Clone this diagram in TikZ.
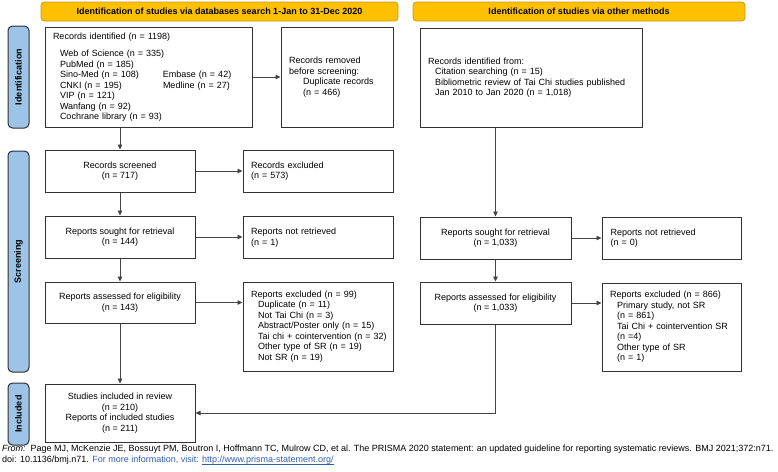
\documentclass[tikz,border=0pt]{standalone}
\usepackage{fontspec}
\setmainfont{Liberation Sans}
\usetikzlibrary{arrows.meta}
\definecolor{hdrfill}{HTML}{FFC000}
\definecolor{hdrline}{HTML}{C49A12}
\definecolor{barfill}{HTML}{9DC3E6}
\definecolor{barline}{HTML}{2B2F36}
\definecolor{boxline}{HTML}{333333}
\definecolor{conn}{HTML}{444444}
\definecolor{linkblue}{HTML}{2E5FB5}
\newcommand\fsz{\fontsize{9}{10.45}\selectfont}
\newcommand\myul[1]{\setbox0\hbox{#1}\rlap{\rule[-1.6pt]{\wd0}{0.5pt}}\box0}
\tikzset{
  box/.style={draw=boxline, line width=1pt, inner sep=0pt, font=\fsz, fill=white},
  lbox/.style={box, align=left},
  cbox/.style={box, align=center},
  hdr/.style={draw=hdrline, line width=0.8pt, fill=hdrfill, rounded corners=3.5pt, inner sep=0pt, font=\fsz\bfseries},
  phase/.style={draw=barline, line width=1pt, fill=barfill, rounded corners=4.5pt, inner sep=0pt, minimum width=21pt},
  phasetxt/.style={rotate=90, font=\fsz\bfseries, inner sep=0pt},
  conn/.style={draw=conn, line width=0.8pt, -{Triangle[length=5pt,width=4.5pt]}},
  plain/.style={draw=conn, line width=0.8pt}
}
\begin{document}
\begin{tikzpicture}[x=1pt, y=-1pt]
\useasboundingbox (0,0) rectangle (778,471);

% headers
\node[hdr, minimum width=357, minimum height=19] (hdrL) at (219.5,11.5) {Identification of studies via databases search 1-Jan to 31-Dec 2020};
\node[hdr, minimum width=332, minimum height=19] (hdrR) at (579,11.5) {Identification of studies via other methods};

% phase bars
\node[phase, minimum height=102] (barI) at (18.5,77) {};
\node[phasetxt] (barItxt) at (barI.center) {Identification};
\node[phase, minimum height=221] (barS) at (18.5,261.5) {};
\node[phasetxt] (barStxt) at (barS.center) {Screening};
\node[phase, minimum height=62] (barN) at (18.5,414) {};
\node[phasetxt] (barNtxt) at (barN.center) {Included};

% left column
\node[lbox, minimum width=207, minimum height=100, text width=191] (id) at (148.5,77)
 {Records identified (n = 1198)\\[7.5pt]
  \hspace*{7pt}Web of Science (n = 335)\\
  \hspace*{7pt}PubMed (n = 185)\\
  \hspace*{7pt}\makebox[103pt][l]{Sino-Med (n = 108)}Embase (n = 42)\\
  \hspace*{7pt}\makebox[103pt][l]{CNKI (n = 195)}Medline (n = 27)\\
  \hspace*{7pt}VIP (n = 121)\\
  \hspace*{7pt}Wanfang (n = 92)\\
  \hspace*{7pt}Cochrane library (n = 93)};
\node[lbox, minimum width=112, minimum height=100, text width=96] (rem) at (337,77)
 {Records removed\\before screening:\\\hspace*{14pt}Duplicate records\\\hspace*{14pt}(n = 466)};

\node[cbox, minimum width=150, minimum height=42] (scr) at (120,171) {Records screened\\(n = 717)};
\node[lbox, minimum width=150, minimum height=42, text width=134] (exc) at (318,171) {Records excluded\\(n = 573)};

\node[cbox, minimum width=150, minimum height=42] (sought) at (120,237) {Reports sought for retrieval\\(n = 144)};
\node[lbox, minimum width=150, minimum height=42, text width=134] (notret) at (318,237.5) {Reports not retrieved\\(n = 1)};

\node[cbox, minimum width=150, minimum height=41] (ass) at (120,302.5) {Reports assessed for eligibility\\(n = 143)};
\node[lbox, minimum width=150, minimum height=89, text width=134] (excA) at (318,326.5)
 {Reports excluded (n = 99)\\
  \hspace*{7pt}Duplicate (n = 11)\\
  \hspace*{7pt}Not Tai Chi (n = 3)\\
  \hspace*{7pt}Abstract/Poster only (n = 15)\\
  \hspace*{7pt}\makebox[0pt][l]{Tai chi + cointervention (n = 32)}\\
  \hspace*{7pt}Other type of SR (n = 19)\\
  \hspace*{7pt}Not SR (n = 19)};

\node[cbox, minimum width=150, minimum height=58] (inc) at (120,413) {Studies included in review\\(n = 210)\\Reports of included studies\\(n = 211)};

% right column
\node[lbox, minimum width=222, minimum height=99, text width=206] (oth) at (531,77.5)
 {Records identified from:\\
  \hspace*{7pt}Citation searching (n = 15)\\
  \hspace*{7pt}Bibliometric review of Tai Chi studies published\\
  \hspace*{7pt}Jan 2010 to Jan 2020 (n = 1,018)};

\node[cbox, minimum width=151, minimum height=42] (soughtR) at (495.5,238) {Reports sought for retrieval\\(n = 1,033)};
\node[lbox, minimum width=139, minimum height=42, text width=122] (notretR) at (671.5,238) {Reports not retrieved\\(n = 0)};

\node[cbox, minimum width=151, minimum height=42] (assR) at (495.5,303) {Reports assessed for eligibility\\(n = 1,033)};
\node[lbox, minimum width=139, minimum height=88, text width=123] (excR) at (671.5,327)
 {Reports excluded (n = 866)\\
  \hspace*{7pt}Primary study, not SR\\
  \hspace*{7pt}(n = 861)\\
  \hspace*{7pt}Tai Chi + cointervention SR\\
  \hspace*{7pt}(n =4)\\
  \hspace*{7pt}Other type of SR\\
  \hspace*{7pt}(n = 1)};

% connectors
\draw[conn] (scr.north |- id.south) -- (scr.north);
\draw[conn] (id.east) -- (rem.west);
\draw[conn] (scr.east) -- (exc.west);
\draw[conn] (scr.south) -- (sought.north);
\draw[conn] (sought.east) -- (notret.west |- sought.east);
\draw[conn] (sought.south) -- (ass.north);
\draw[conn] (ass.east) -- (ass.east -| excA.west);
\draw[conn] (ass.south) -- (inc.north);

\draw[conn] (soughtR.north |- oth.south) -- (soughtR.north);
\draw[conn] (soughtR.east) -- (notretR.west);
\draw[conn] (soughtR.south) -- (assR.north);
\draw[conn] (assR.east) -- (assR.east -| excR.west);
\draw[conn] (assR.south) |- (inc.east);

% footer
\node[anchor=north west, align=left, inner sep=0pt, font=\fontsize{9}{11}\selectfont] (foot) at (2,445)
 {\textit{From:}\ \ Page MJ, McKenzie JE, Bossuyt PM, Boutron I, Hoffmann TC, Mulrow CD, et al. The PRISMA 2020 statement: an updated guideline for reporting systematic reviews. BMJ 2021;372:n71.\\
  doi: 10.1136/bmj.n71. \textcolor{linkblue}{For more information, visit:} \textcolor{linkblue}{\myul{http://www.prisma-statement.org/}}};
\end{tikzpicture}
\end{document}
